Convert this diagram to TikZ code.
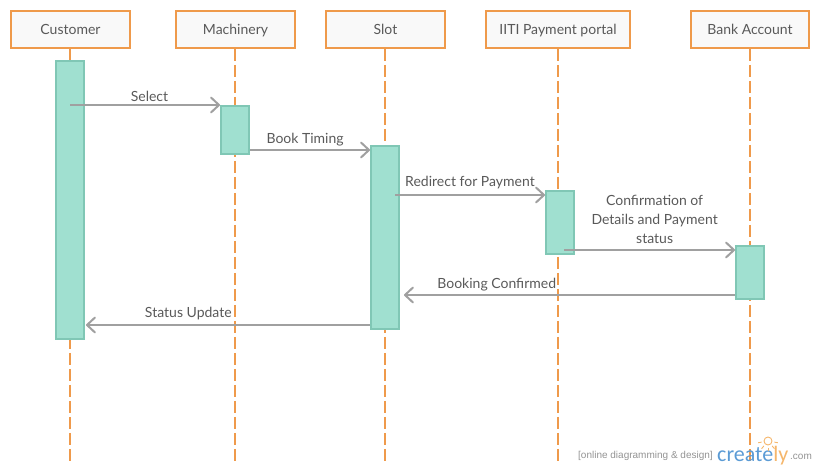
\documentclass[tikz,border=0pt]{standalone}
\usepackage{fontspec}
\setmainfont{Lato}[Ligatures=TeX]
\newfontfamily\logofont{Carlito}
\newfontfamily\tagfont{Liberation Sans}
\usepackage{tikz}
\usetikzlibrary{arrows.meta,calc,positioning}
\definecolor{lifeorange}{HTML}{EF9A4B}
\definecolor{boxfill}{HTML}{F9F9F9}
\definecolor{barfill}{HTML}{A0E0D0}
\definecolor{barline}{HTML}{80C7B5}
\definecolor{msggray}{HTML}{A0A0A0}
\definecolor{txtgray}{HTML}{595959}
\definecolor{logoblue}{HTML}{5B9BD5}
\definecolor{logoorange}{HTML}{F5B66B}
\tikzset{
  head/.style={draw=lifeorange,fill=boxfill,line width=1.8pt,minimum height=37pt,inner sep=0pt,text=txtgray,text height=11pt,text depth=1pt,font=\fontsize{14}{17}\selectfont},
  bar/.style={draw=barline,fill=barfill,line width=1.6pt,minimum width=28pt,inner sep=0pt},
  life/.style={draw=lifeorange,line width=2pt,dash pattern=on 12pt off 4pt},
  msg/.style={draw=msggray,line width=2pt,-{Straight Barb[length=8pt,width=15pt,round]}},
  msgtext/.style={text=txtgray,font=\fontsize{14}{19}\selectfont,inner sep=0pt,align=center},
  tagtext/.style={text=gray!85,font=\tagfont\fontsize{10}{11}\selectfont,inner sep=0pt}
}
\begin{document}
\begin{tikzpicture}[x=1pt,y=-1pt]
   \useasboundingbox (0,0) rectangle (816,470);
   % heads
   \node (customer) [head,minimum width=119pt] at (70.5,29.5) {Customer};
   \node (machinery) [head,minimum width=119pt] at (235.5,29.5) {Machinery};
   \node (slot) [head,minimum width=119pt] at (385.5,29.5) {Slot};
   \node (portal) [head,minimum width=144pt] at (558,29.5) {IITI Payment portal};
   \node (bank) [head,minimum width=118pt] at (750,29.5) {Bank Account};
   % lifeline ends
   \coordinate (customerEnd) at (70,462);
   \coordinate (machineryEnd) at (235,462);
   \coordinate (slotEnd) at (385,462);
   \coordinate (portalEnd) at (558,462);
   \coordinate (bankEnd) at (750,462);
   \foreach \v in {customer,machinery,slot,portal,bank}
     \draw [life] (\v End |- \v.south) -- (\v End);
   % activation bars
   \node (barC) [bar,minimum height=278pt] at (70,200) {};
   \node (barM) [bar,minimum height=48pt] at (235,130) {};
   \node (barS) [bar,minimum height=183pt] at (385,237.5) {};
   \node (barP) [bar,minimum height=63pt] at (560,222.5) {};
   \node (barB) [bar,minimum height=53pt] at (750,272.5) {};
   % free ends of the messages
   \coordinate (m1s) at (70,105);
   \coordinate (m1e) at (220,105);
   \coordinate (m2e) at (370,150);
   \coordinate (m3s) at (395,195);
   \coordinate (m3e) at (545,195);
   \coordinate (m4s) at (564,250);
   \coordinate (m4e) at (735,250);
   \coordinate (m5e) at (404,295);
   \coordinate (m6e) at (86,325);
   \draw [msg] (m1s) -- node[msgtext,above=2pt,pos=.53]{Select} (m1e);
   \draw [msg] (barM.east |- m2e) -- node[msgtext,above=3pt,pos=.46]{Book Timing} (m2e);
   \draw [msg] (m3s) -- node[msgtext,above=5pt]{Redirect for Payment} (m3e);
   \draw [msg] (m4s) -- node[msgtext,above=5pt,pos=.53]{Confirmation of\\Details and Payment\\status} (m4e);
   \draw [msg] (barB.west |- m5e) -- node[msgtext,above=3pt,pos=.72]{Booking Confirmed} (m5e);
   \draw [msg] (barS.west |- m6e) -- node[msgtext,above=4pt,pos=.64]{Status Update} (m6e);
   % logo
   \node (tagline) [tagtext,anchor=base west] at (578,458) {[online diagramming \& design]};
   \node (logo) [inner sep=0pt,font=\logofont\fontsize{22}{26}\selectfont,anchor=base west] at (717,461) {\textcolor{logoblue}{create}\textcolor{logoorange}{ly}};
   \node (com) [tagtext,anchor=base west] at (790,459) {.com};
   \node (bulb) [draw=logoorange,circle,line width=.9pt,minimum size=8pt,inner sep=0pt] at (768,441) {};
   \foreach \a in {10,50,90,130,170}
     \draw [logoorange,line width=.9pt] (bulb) ++(-\a:6.5pt) -- ++(-\a:3.5pt);
\end{tikzpicture}
\end{document}
